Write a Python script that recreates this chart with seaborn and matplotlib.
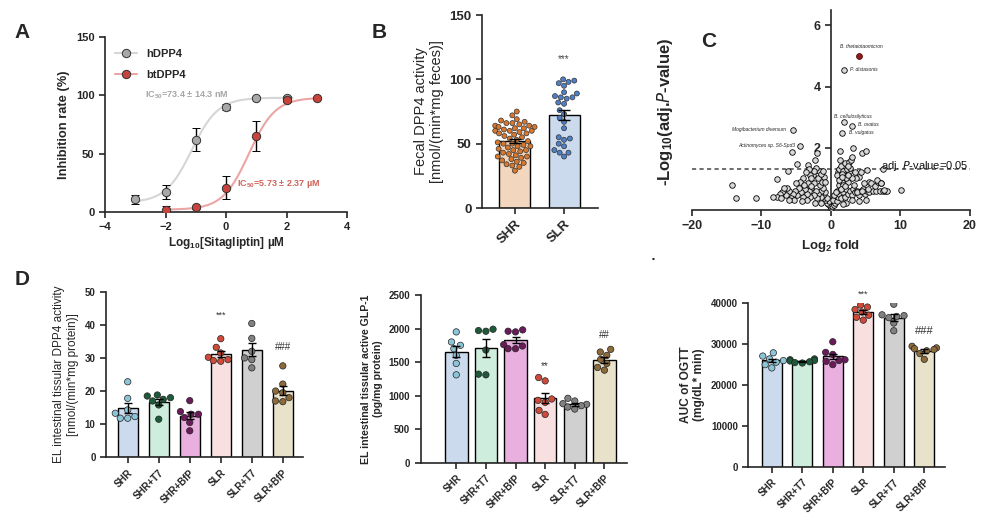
import matplotlib
matplotlib.use("Agg")
import matplotlib.pyplot as plt
from matplotlib.lines import Line2D
import numpy as np
import pandas as pd
import seaborn as sns

# ---- panel A : sitagliptin inhibition ----
conc_h = [-3, -2, -1, 0, 1, 2]
inhib_h = [11, 17, 62, 90, 98, 98]
sem_h = [4, 6, 10, 2.5, 1, 1.5]
conc_bt = [-2, -1, 0, 1, 2, 3]
inhib_bt = [2, 4, 21, 65, 96, 98]
sem_bt = [3, 1.5, 9.5, 13, 2, 1]
# fitted 4PL parameters (bottom, top, logIC50 in uM, hill)
fit_h = (8, 98, np.log10(0.0734), 1.0)
fit_bt = (2, 98, np.log10(5.73), 1.0)

# ---- panel B : fecal DPP4 ----
fecal_shr = [75, 72, 69, 68, 67, 66, 66, 65, 64, 64, 63, 63, 62, 62, 61, 60, 60, 60,
             59, 58, 58, 57, 56, 55, 54, 53, 52, 51, 50, 50, 49, 48, 48, 47, 46, 45,
             45, 44, 43, 42, 41, 40, 40, 39, 38, 37, 36, 35, 34, 33, 32, 29]
fecal_slr = [100, 99, 98, 97, 95, 90, 89, 87, 86, 86, 85, 82, 81, 76, 73, 70, 67,
             62, 55, 54, 53, 50, 48, 45, 43, 43, 40]

# ---- panel C : volcano ----
volcano_fold = [0, -0.2, 0.2, -0.4, 0.4, -0.6, 0.6, -0.3, 0.3, -0.8, 0.8, -1.0, 1.0, -0.5, 0.5,
                -1.2, 1.2, -0.9, 0.9, -1.5, 1.5, -1.4, 1.4, -1.8, 1.8, -2.0, 2.0, -1.1, 1.1,
                -1.6, 1.6, -2.2, 2.2, -1.3, 1.3, -2.5, 2.5, -2.8, 2.8, -1.9, 1.9, -2.4, 2.4,
                -3.0, 3.0, -3.2, 3.2, -2.6, 2.6, -3.5, 3.5, -3.8, 3.8, -3.3, 3.3, -4.0, 4.0,
                -4.3, 4.3, -4.6, 4.6, -4.9, 4.9, -5.2, 5.2, -5.5, 5.5, -6.0, 6.0, -6.5, 6.5,
                -7.0, 7.0, -7.4, 7.5, -7.8, 7.8,
                -1.0, -1.7, -2.1, -2.5, -3.0, -3.3, -3.1, -2.8, -4.0, -4.5, -1.5, -0.8, -3.6,
                -5.0, -6.3, -5.8, -6.8, -7.2, -3.5, -2.3, -1.5, -4.2, -5.3, -6.0, -2.9, -3.9,
                1.0, 1.2, 1.5, 1.8, 2.0, 2.3, 2.6, 2.9, 1.3, 0.9, 1.7, 2.1, 3.4, 4.0, 4.3,
                5.5, 3.6, 3.0, 4.8, 5.8, 2.2, 3.0, 4.0, 1.8, 5.0, 6.3, 6.8, 7.2, 8.0, 1.1,
                1.6, 2.4, 2.7, 0.7, 1.4, 2.0, 3.8, 4.5, 5.3,
                -14.3, -13.7, -10.8, -8.3, -7.8, -6.2, -5.6, -4.9, -2.3, -2.05, -1.1,
                1.3, 3.2, 4.4, 5.0, 3.1, 5.2, 7.5, 6.6, 7.2, 10.1, 7.6, 1.6, 2.4]
volcano_logp = [0.05, 0.1, 0.1, 0.15, 0.12, 0.2, 0.2, 0.25, 0.3, 0.3, 0.28, 0.35, 0.4, 0.35, 0.45,
                0.45, 0.5, 0.55, 0.6, 0.4, 0.35, 0.6, 0.7, 0.5, 0.55, 0.35, 0.4, 0.7, 0.8,
                0.8, 0.9, 0.6, 0.65, 0.9, 1.0, 0.45, 0.5, 0.7, 0.6, 1.0, 1.1, 0.85, 0.9,
                0.4, 0.45, 0.6, 0.65, 1.1, 1.2, 0.5, 0.55, 0.65, 0.6, 0.85, 0.8, 0.4, 0.45,
                0.55, 0.6, 0.7, 0.65, 0.45, 0.5, 0.6, 0.6, 0.5, 0.55, 0.6, 0.6, 0.45, 0.6,
                0.55, 0.6, 0.5, 0.6, 0.4, 0.6,
                1.05, 1.25, 1.35, 1.25, 1.1, 1.45, 1.3, 1.0, 1.0, 0.9, 1.15, 0.9, 1.2,
                0.85, 0.7, 0.35, 0.7, 0.35, 0.3, 0.2, 0.2, 0.25, 0.3, 0.3, 0.75, 0.8,
                1.2, 1.3, 1.4, 1.25, 1.5, 1.3, 1.55, 1.6, 1.6, 1.1, 0.8, 1.0, 1.2, 1.05, 1.2,
                0.9, 1.0, 1.0, 0.85, 0.85, 0.2, 0.3, 0.25, 0.15, 0.3, 0.75, 0.9, 0.85, 0.6, 0.95,
                1.15, 1.1, 1.35, 0.55, 0.65, 0.75, 0.55, 0.6, 0.65,
                0.78, 0.37, 0.37, 0.38, 0.97, 1.25, 1.85, 1.46, 1.6, 1.82, 1.24,
                1.9, 1.98, 1.82, 1.9, 1.71, 1.27, 1.3, 0.95, 0.85, 0.62, 0.62, 1.05, 1.4]
taxa_names = ["P. distasonis", "B. cellulosilyticus", "B. ovatus", "B. vulgatus",
              "Mogibacterium diversum", "Actinomyces sp. S6-Spd3"]
taxa_fold = [1.9, 1.9, 3.1, 1.6, -5.5, -4.5]
taxa_logp = [4.55, 2.84, 2.72, 2.49, 2.58, 2.06]
top_name, top_fold, top_logp = "B. thetaiotaomicron", 4.0, 5.0

# ---- panel D ----
groups = ["SHR", "SHR+T7", "SHR+BfP", "SLR", "SLR+T7", "SLR+BfP"]
dpp4_tissue = [[22.8, 17.8, 14.3, 12.3, 11.8, 11.8, 13.3],
               [18.8, 18.0, 17.5, 17.0, 18.5, 15.8, 11.5],
               [17.1, 13.8, 13.0, 13.0, 12.0, 10.5, 8.0],
               [35.8, 33.2, 31.5, 30.2, 29.5, 29.0, 29.2],
               [40.4, 35.9, 32.0, 30.0, 29.5, 27.0],
               [27.6, 22.1, 20.0, 19.5, 18.0, 17.0, 16.8]]
glp1 = [[1950, 1800, 1750, 1700, 1600, 1480, 1310],
        [1990, 1960, 1970, 1680, 1310, 1320],
        [1980, 1960, 1950, 1760, 1740, 1700, 1700],
        [1270, 1220, 950, 930, 900, 780, 720],
        [960, 920, 880, 870, 850, 830, 800],
        [1690, 1650, 1600, 1540, 1480, 1420, 1380]]
ogtt_auc = [[27900, 27100, 26400, 26000, 25600, 25000, 24200],
            [26400, 26200, 26000, 25900, 25700, 25500, 25400],
            [30600, 28000, 27500, 26200, 26000, 25800, 25000],
            [39600, 39100, 38500, 37900, 37100, 36600, 35900],
            [39800, 37200, 37000, 36800, 36500, 35200, 33300],
            [29500, 29100, 28900, 28700, 28400, 27700, 26300]]
bar_fill = ["#c6d9f2", "#c9f2dd", "#f2a5e6", "#fcdcdc", "#d0d0d0", "#eee4c6"]
dot_fill = ["#8cc4d8", "#1d5a3a", "#6a1b5a", "#d04a3a", "#808080", "#8c6a3a"]

sns.set_theme(style="ticks")
plt.rcParams["font.family"] = ["Liberation Sans", "DejaVu Sans"]
plt.rcParams["mathtext.default"] = "regular"
plt.rcParams["axes.linewidth"] = 1.2
plt.rcParams["xtick.major.width"] = 1.2
plt.rcParams["ytick.major.width"] = 1.2
plt.rcParams["xtick.major.size"] = 4
plt.rcParams["ytick.major.size"] = 4

fig = plt.figure(figsize=(9.85, 5.27), dpi=100)


def hill(x, p):
    bottom, top, logic50, slope = p
    return bottom + (top - bottom) / (1 + 10 ** ((logic50 - x) * slope))


def bold_ticks(ax, size):
    for lab in ax.get_xticklabels() + ax.get_yticklabels():
        lab.set_fontweight("bold")
        lab.set_fontsize(size)


def bar_panel(ax, values, width, size, tick_size):
    df = pd.DataFrame({"group": np.repeat(groups[:len(values)], [len(v) for v in values]),
                       "value": np.concatenate(values)})
    names = groups[:len(values)]
    sns.barplot(data=df, x="group", y="value", hue="group", order=names, hue_order=names,
                palette=dict(zip(names, bar_fill)), errorbar=None, width=width,
                edgecolor="black", linewidth=1, legend=False, ax=ax)
    sns.swarmplot(data=df, x="group", y="value", hue="group", order=names, hue_order=names,
                  palette=dict(zip(names, dot_fill)), size=size, edgecolor="#222222",
                  linewidth=0.5, legend=False, warn_thresh=1, ax=ax)
    stats = df.groupby("group", sort=False)["value"].agg(["mean", "sem"]).reindex(names)
    ax.errorbar(range(len(names)), stats["mean"], yerr=stats["sem"], fmt="none",
                ecolor="black", elinewidth=1, capsize=3, capthick=1, zorder=5)
    sns.despine(ax=ax)
    ax.set_xlabel("")
    ax.tick_params(axis="x", labelrotation=45)
    for lab in ax.get_xticklabels():
        lab.set_ha("right")
        lab.set_rotation_mode("anchor")
    bold_ticks(ax, tick_size)
    return stats


# ---------------- A ----------------
axA = fig.add_axes([0.1066, 0.5977, 0.2457, 0.332])
xh = np.linspace(-3, 2.2, 200)
xb = np.linspace(-2, 3, 200)
sns.lineplot(x=xh, y=hill(xh, fit_h), color="#d6d6d6", lw=1.5, ax=axA)
sns.lineplot(x=xb, y=hill(xb, fit_bt), color="#eba5a5", lw=1.5, ax=axA)
axA.errorbar(conc_h, inhib_h, yerr=sem_h, fmt="o", ms=6, mfc="#a8a8a8", mec="#333333",
             mew=0.7, ecolor="black", elinewidth=1, capsize=3, zorder=4)
axA.errorbar(conc_bt, inhib_bt, yerr=sem_bt, fmt="o", ms=6, mfc="#c8433b", mec="#333333",
             mew=0.7, ecolor="black", elinewidth=1, capsize=3, zorder=4)
axA.set_xlim(-4, 4)
axA.set_ylim(0, 150)
axA.set_xticks([-4, -2, 0, 2, 4])
axA.set_yticks([0, 50, 100, 150])
sns.despine(ax=axA)
bold_ticks(axA, 8)
axA.set_xlabel("Log$_{10}$[Sitagliptin] µM", fontsize=8.5, fontweight="bold", labelpad=2)
axA.set_ylabel("Inhibition rate (%)", fontsize=9.3, fontweight="bold")
handles = [Line2D([0], [0], color="#d6d6d6", lw=1.5, marker="o", ms=6, mfc="#a8a8a8", mec="#333333", mew=0.7),
           Line2D([0], [0], color="#eba5a5", lw=1.5, marker="o", ms=6, mfc="#c8433b", mec="#333333", mew=0.7)]
leg = axA.legend(handles, ["hDPP4", "btDPP4"], loc="upper left", bbox_to_anchor=(0.0, 0.99),
                 frameon=False, labelspacing=1.0, handlelength=2.0, prop={"weight": "bold", "size": 8})
axA.text(-2.68, 100, "IC$_{50}$=73.4 ± 14.3 nM", color="#a6a6a6", fontsize=6.5,
         fontweight="bold", va="center")
axA.text(0.36, 24, "IC$_{50}$=5.73 ± 2.37 µM", color="#d0625a", fontsize=6.5,
         fontweight="bold", va="center")

# ---------------- B ----------------
axB = fig.add_axes([0.4893, 0.6053, 0.1178, 0.3662])
dfB = pd.DataFrame({"group": ["SHR"] * len(fecal_shr) + ["SLR"] * len(fecal_slr),
                    "value": fecal_shr + fecal_slr})
sns.barplot(data=dfB, x="group", y="value", hue="group", palette={"SHR": "#fbd7b5", "SLR": "#c5d9f3"},
            errorbar=None, width=0.63, edgecolor="black", linewidth=1, legend=False, ax=axB)
sns.swarmplot(data=dfB, x="group", y="value", hue="group", palette={"SHR": "#d9782d", "SLR": "#4f7fc6"},
              size=3.6, edgecolor="#333333", linewidth=0.5, legend=False, warn_thresh=1, ax=axB)
statsB = dfB.groupby("group")["value"].agg(["mean", "sem"]).reindex(["SHR", "SLR"])
axB.errorbar([0, 1], statsB["mean"], yerr=statsB["sem"], fmt="none", ecolor="black",
             elinewidth=1, capsize=4, capthick=1, zorder=5)
axB.set_xlim(-0.67, 1.69)
axB.set_ylim(0, 150)
axB.set_yticks([0, 50, 100, 150])
sns.despine(ax=axB)
axB.set_xlabel("")
axB.set_ylabel("Fecal DPP4 activity\n[nmol/(min*mg feces)]", fontsize=10.5)
axB.tick_params(axis="x", labelrotation=45)
for lab in axB.get_xticklabels():
    lab.set_ha("right")
    lab.set_rotation_mode("anchor")
bold_ticks(axB, 9.5)
axB.text(1, 116, "***", ha="center", va="center", fontsize=7, color="#444444")

# ---------------- C ----------------
axC = fig.add_axes([0.7025, 0.6015, 0.2822, 0.3795])
sns.scatterplot(x=volcano_fold, y=volcano_logp, color="#d9d9d9", edgecolor="black",
                s=16, linewidth=0.6, ax=axC, zorder=3)
sns.scatterplot(x=taxa_fold, y=taxa_logp, color="#d9d9d9", edgecolor="black",
                s=16, linewidth=0.6, ax=axC, zorder=3)
sns.scatterplot(x=[top_fold], y=[top_logp], color="#8b1d1d", edgecolor="#5a0f0f",
                s=18, linewidth=0.6, ax=axC, zorder=3)
axC.axhline(-np.log10(0.05), color="#555555", lw=1.2, ls=(0, (2.5, 2)), zorder=2)
axC.text(7.2, 1.42, "adj. $\\mathit{P}$-value=0.05", fontsize=8, va="center", color="#111111")
axC.text(top_fold + 0.4, top_logp + 0.25, top_name, fontsize=3.6, style="italic", ha="center")
axC.text(2.8, 4.55, taxa_names[0], fontsize=3.6, style="italic", va="center")
axC.text(0.4, 3.02, taxa_names[1], fontsize=3.6, style="italic", va="center")
axC.text(3.9, 2.75, taxa_names[2], fontsize=3.6, style="italic", va="center")
axC.text(2.6, 2.5, taxa_names[3], fontsize=3.6, style="italic", va="center")
axC.text(-6.4, 2.6, taxa_names[4], fontsize=3.6, style="italic", va="center", ha="right")
axC.text(-5.2, 2.07, taxa_names[5], fontsize=3.6, style="italic", va="center", ha="right")
axC.set_xlim(-20, 20)
axC.set_ylim(-0.03, 6.5)
axC.set_xticks([-20, -10, 0, 10, 20])
axC.set_yticks([2, 4, 6])
axC.spines["left"].set_position(("data", 0))
axC.spines["right"].set_visible(False)
axC.spines["top"].set_visible(False)
bold_ticks(axC, 9)
axC.set_xlabel("Log$_2$ fold", fontsize=9.5, fontweight="bold")
axC.set_ylabel("-Log$_{10}$(adj.$\\mathit{P}$-value)", fontsize=12, fontweight="bold")
axC.yaxis.set_label_coords(-0.06, 0.49)

# ---------------- D ----------------
axD1 = fig.add_axes([0.1076, 0.1323, 0.2, 0.3142])
bar_panel(axD1, dpp4_tissue, 0.655, 4.6, 7)
axD1.set_xlim(-0.7, 5.65)
axD1.set_ylim(0, 50)
axD1.set_yticks(range(0, 51, 10))
axD1.set_ylabel("EL intestinal tissular DPP4 activity\n[nmol/(min*mg protein)]", fontsize=8.5)
axD1.text(3, 43, "***", ha="center", va="center", fontsize=6.5, color="#333333")
axD1.text(5, 33.4, "###", ha="center", va="center", fontsize=7, color="#333333")

axD2 = fig.add_axes([0.4271, 0.122, 0.2091, 0.3182])
bar_panel(axD2, glp1, 0.76, 4.6, 7)
axD2.set_xlim(-1.2, 5.75)
axD2.set_ylim(0, 2500)
axD2.set_yticks(range(0, 2501, 500))
axD2.set_ylabel("EL intestinal tissular active GLP-1\n(pg/mg protein)", fontsize=7.6, fontweight="bold")
axD2.text(3, 1441, "**", ha="center", va="center", fontsize=7, color="#333333")
axD2.text(5, 1908, "##", ha="center", va="center", fontsize=7, color="#333333")

axD3 = fig.add_axes([0.7597, 0.1144, 0.1997, 0.3099])
bar_panel(axD3, ogtt_auc, 0.66, 4.6, 7)
axD3.set_xlim(-0.77, 5.68)
axD3.set_ylim(0, 40000)
axD3.set_yticks(range(0, 40001, 10000))
axD3.set_ylabel("AUC of OGTT\n(mg/dL* min)", fontsize=8.6, fontweight="bold")
axD3.text(3, 42300, "***", ha="center", va="center", fontsize=6.5, color="#333333")
axD3.text(5, 33200, "###", ha="center", va="center", fontsize=8, color="#333333")

# panel letters
for letter, x, y in [("A", 0.022, 0.939), ("B", 0.385, 0.939), ("C", 0.719, 0.922), ("D", 0.022, 0.469)]:
    fig.text(x, y, letter, fontsize=15, fontweight="bold", ha="center", va="center")
fig.text(653 / 985, 1 - 259 / 527, "▪", fontsize=6, ha="center", va="center")

fig.savefig("out.png", dpi=100)
